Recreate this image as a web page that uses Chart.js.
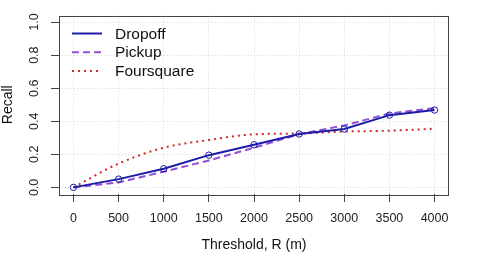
<!DOCTYPE html>
<html>
<head>
<meta charset="utf-8">
<script src="https://cdn.jsdelivr.net/npm/chart.js@4.4.1/dist/chart.umd.min.js"></script>
<style>
  html, body { margin: 0; padding: 0; background: #fff; }
  canvas { display: block; }
</style>
</head>
<body>
<canvas id="chart" width="480" height="269"></canvas>
<script>
// thresholds (m)
let thresholds = [0, 500, 1000, 1500, 2000, 2500, 3000, 3500, 4000];
// recall per method
let dropoff = [0, 0.05, 0.113, 0.195, 0.258, 0.323, 0.353, 0.437, 0.468];
let pickup = [0, 0.03, 0.095, 0.163, 0.24, 0.322, 0.375, 0.447, 0.48];
let foursquare = [0, 0.144, 0.24, 0.287, 0.321, 0.326, 0.338, 0.343, 0.355];
let xTicks = [0, 500, 1000, 1500, 2000, 2500, 3000, 3500, 4000];
let yTicks = [0, 0.2, 0.4, 0.6, 0.8, 1.0];

const FONT = "'Liberation Sans', Arial, Helvetica, sans-serif";

function toPoints(values)
{
    return values.map((v, i) => ({ x: thresholds[i], y: v }));
}

// box around the plot region, like R's bty="o"
const boxPlugin = {
    id: 'box',
    afterDatasetsDraw(chart) {
        let a = chart.chartArea;
        let ctx = chart.ctx;
        ctx.save();
        ctx.strokeStyle = '#444';
        ctx.lineWidth = 1;
        ctx.strokeRect(Math.round(a.left) + 0.5, Math.round(a.top) + 0.5,
            Math.round(a.right - a.left) - 1, Math.round(a.bottom - a.top));
        ctx.restore();
    }
};

// legend inside the plot, top-left, no frame
const legendPlugin = {
    id: 'insideLegend',
    afterDraw(chart) {
        let ctx = chart.ctx;
        let a = chart.chartArea;
        ctx.save();
        chart.data.datasets.forEach((ds, i) => {
            let y = a.top + 18 + i * 18.7;
            ctx.strokeStyle = ds.borderColor;
            ctx.lineWidth = 2;
            ctx.setLineDash(ds.borderDash || []);
            ctx.beginPath();
            ctx.moveTo(a.left + 13, y);
            ctx.lineTo(a.left + 43, y);
            ctx.stroke();
            ctx.setLineDash([]);
            ctx.fillStyle = '#111';
            ctx.font = '15.5px ' + FONT;
            ctx.textBaseline = 'middle';
            ctx.fillText(ds.label, a.left + 56, y + 1);
        });
        ctx.restore();
    }
};

let datas = {
    datasets: [
        {
            label: 'Dropoff',
            data: toPoints(dropoff),
            borderColor: '#1c1ca6',
            borderWidth: 2,
            pointRadius: 3.2,
            pointBorderWidth: 1,
            pointBackgroundColor: 'rgba(0,0,0,0)',
            pointBorderColor: '#1c1ca6',
            tension: 0
        },
        {
            label: 'Pickup',
            data: toPoints(pickup),
            borderColor: '#9050d8',
            borderWidth: 2,
            borderDash: [7, 4],
            pointRadius: 0,
            tension: 0
        },
        {
            label: 'Foursquare',
            data: toPoints(foursquare),
            borderColor: '#d02828',
            borderWidth: 2,
            borderDash: [2, 4],
            pointRadius: 0,
            cubicInterpolationMode: 'monotone'
        }
    ]
};

let config = {
    type: 'line',
    data: datas,
    plugins: [boxPlugin, legendPlugin],
    options: {
        responsive: false,
        devicePixelRatio: 1,
        animation: false,
        layout: { padding: { left: 0, right: 31, top: 8, bottom: 0 } },
        plugins: {
            legend: { display: false },
            tooltip: { enabled: false }
        },
        scales: {
            x: {
                type: 'linear',
                min: -160,
                max: 4160,
                afterBuildTicks: (scale) => { scale.ticks = xTicks.map(v => ({ value: v })); },
                afterFit: (scale) => { scale.height = 75; },
                ticks: {
                    color: '#222',
                    font: { family: FONT, size: 12.5 },
                    padding: 9,
                    maxRotation: 0,
                    callback: (v) => String(v)
                },
                grid: {
                    color: '#d8d8d8',
                    lineWidth: 1,
                    drawTicks: true,
                    tickLength: 8,
                    tickColor: '#444',
                    tickWidth: 1
                },
                border: { display: false, dash: [1, 2] },
                title: {
                    display: true,
                    text: 'Threshold, R (m)',
                    color: '#111',
                    font: { family: FONT, size: 14 },
                    padding: { top: 0, bottom: 15 }
                }
            },
            y: {
                min: -0.04,
                max: 1.04,
                afterBuildTicks: (scale) => { scale.ticks = yTicks.map(v => ({ value: v })); },
                afterFit: (scale) => { scale.width = 59; },
                ticks: {
                    color: '#222',
                    font: { family: FONT, size: 12.5 },
                    padding: 8,
                    minRotation: 90,
                    maxRotation: 90,
                    crossAlign: 'center',
                    callback: (v) => Number(v).toFixed(1)
                },
                grid: {
                    color: '#d8d8d8',
                    lineWidth: 1,
                    drawTicks: true,
                    tickLength: 8,
                    tickColor: '#444',
                    tickWidth: 1
                },
                border: { display: false, dash: [1, 2] },
                title: {
                    display: true,
                    text: 'Recall',
                    color: '#111',
                    font: { family: FONT, size: 14 },
                    padding: { top: 0, bottom: 0 }
                }
            }
        }
    }
};

let canvas = document.getElementById('chart');
let chart = new Chart(canvas, config);
</script>
</body>
</html>
